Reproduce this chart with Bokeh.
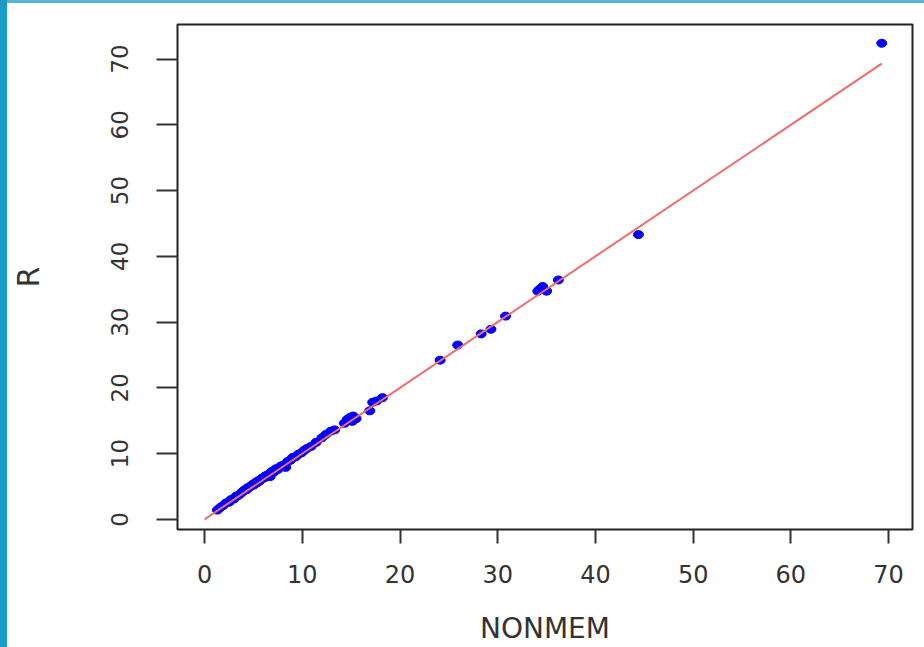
from bokeh.plotting import figure
from bokeh.models import Div, FixedTicker, ColumnDataSource
from bokeh.layouts import row, column
from bokeh.embed import file_html
from bokeh.resources import INLINE

# ---- data ----
nonmem = [1.3, 1.6, 1.9, 2.2, 2.5, 2.7, 3.0, 3.2, 3.4, 3.6, 3.8, 3.9, 4.1, 4.3, 4.4,
          4.6, 4.7, 4.9, 5.0, 5.2, 5.3, 5.5, 5.6, 5.8, 5.9, 6.1, 6.2, 6.4, 6.6, 6.7,
          6.9, 7.1, 7.3, 7.5, 7.8, 8.0, 8.3, 8.5, 8.8, 9.0, 9.3, 9.6, 9.9, 10.2, 10.5,
          10.9, 11.4, 12.0, 12.4, 12.9, 13.3,
          14.3, 14.6, 14.9, 15.2, 15.5, 15.1, 16.9, 17.2, 17.6, 18.2,
          24.1, 25.9, 28.3, 29.3, 30.8, 34.1, 34.3, 34.6, 35.0, 36.2, 44.4, 69.3]
r_vals = [1.4, 1.8, 2.1, 2.5, 2.6, 3.0, 3.1, 3.5, 3.6, 3.8, 4.1, 4.2, 4.5, 4.5, 4.8,
          4.9, 5.0, 5.3, 5.2, 5.6, 5.5, 5.9, 5.8, 6.1, 6.3, 6.3, 6.6, 6.7, 6.9, 6.5,
          7.3, 7.2, 7.7, 7.6, 8.1, 8.2, 7.9, 8.8, 9.0, 9.4, 9.5, 9.9, 10.1, 10.5, 10.8,
          11.1, 11.7, 12.4, 12.9, 13.4, 13.6,
          14.6, 15.2, 15.5, 15.7, 15.3, 14.9, 16.5, 17.8, 18.0, 18.5,
          24.2, 26.5, 28.2, 28.9, 30.9, 34.7, 35.0, 35.4, 34.7, 36.4, 43.3, 72.4]
line_x = [0.0, 69.3]
line_y = [0.0, 69.3]
x_ticks = [0, 10, 20, 30, 40, 50, 60, 70]
y_ticks = [0, 10, 20, 30, 40, 50, 60, 70]
x_label = "NONMEM"
y_label = "R"

TEXT = "#333333"

p = figure(width=917, height=644, output_backend="svg", toolbar_location=None,
           x_range=(-2.78, 72.45), y_range=(-1.55, 75.25),
           min_border_left=168, min_border_right=12, min_border_top=21, min_border_bottom=117,
           margin=0)

p.background_fill_color = "white"
p.border_fill_color = "white"
p.outline_line_color = "#222222"
p.outline_line_width = 2
p.grid.visible = False

src = ColumnDataSource(dict(x=nonmem, y=r_vals))
p.ellipse(x="x", y="y", width=10, height=8, width_units="screen", height_units="screen",
          source=src, fill_color="#0000FF", line_color="#0000FF")
p.line(line_x, line_y, line_color="#F26B6B", line_width=2)

for ax in (p.xaxis[0], p.yaxis[0]):
    ax.axis_line_color = None
    ax.minor_tick_line_color = None
    ax.major_tick_line_color = "#333333"
    ax.major_tick_line_width = 2
    ax.major_tick_in = 0
    ax.major_label_text_color = TEXT
    ax.major_label_text_font = "DejaVu Sans"
    ax.axis_label_text_color = TEXT
    ax.axis_label_text_font = "DejaVu Sans"
    ax.axis_label_text_font_style = "normal"

p.xaxis.ticker = FixedTicker(ticks=x_ticks)
p.yaxis.ticker = FixedTicker(ticks=y_ticks)
p.xaxis.major_tick_out = 14
p.yaxis.major_tick_out = 21
p.xaxis.major_label_text_font_size = "24px"
p.yaxis.major_label_text_font_size = "23px"
p.xaxis.major_label_standoff = 21
p.yaxis.major_label_standoff = 28
p.yaxis.major_label_orientation = "vertical"
p.xaxis.axis_label = x_label
p.yaxis.axis_label = y_label
p.xaxis.axis_label_text_font_size = "28px"
p.yaxis.axis_label_text_font_size = "30px"
p.xaxis.axis_label_standoff = 26
p.yaxis.axis_label_standoff = 63

left_bar = Div(text="", width=7, height=647, margin=0,
               styles={"background-color": "#1B9BC4"})
top_bar = Div(text="", width=917, height=3, margin=0,
              styles={"background-color": "#55B6D8"})
layout = row(left_bar, column(top_bar, p, spacing=0, margin=0), spacing=0, margin=0)

open("out.html", "w").write(file_html(layout, INLINE))
